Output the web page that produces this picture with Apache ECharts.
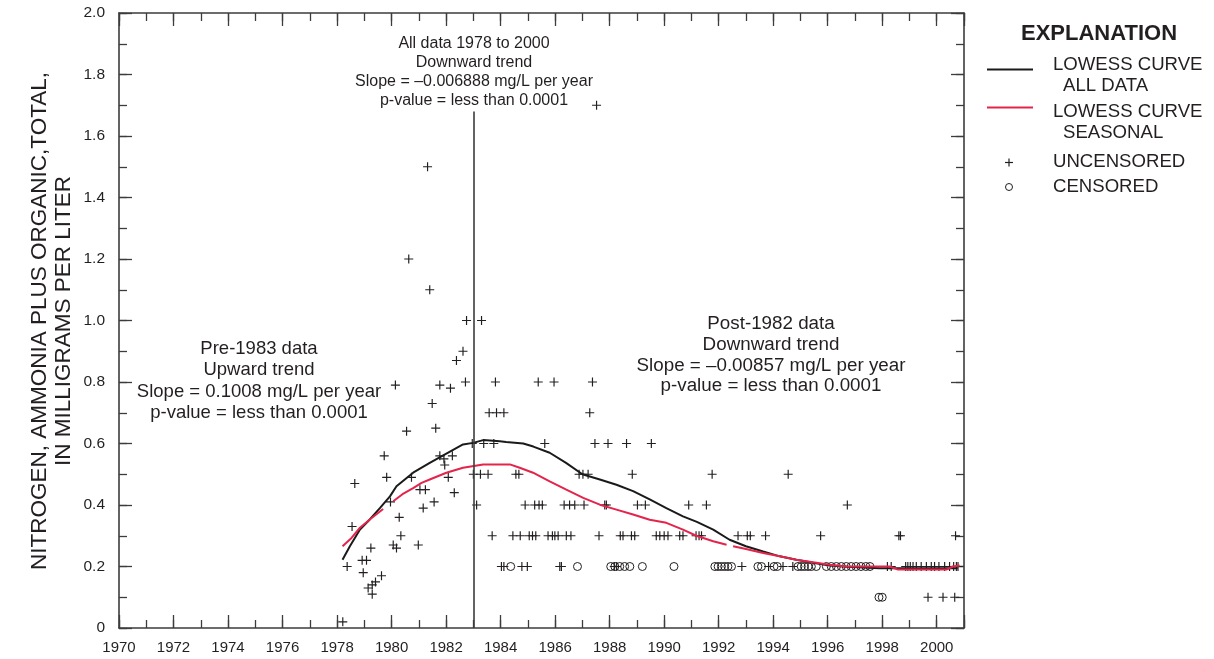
<!DOCTYPE html>
<html><head><meta charset="utf-8">
<script src="https://cdn.jsdelivr.net/npm/echarts@6/dist/echarts.min.js"></script>
<style>html,body{margin:0;padding:0;background:#fff}#c{width:1214px;height:659px}</style>
</head><body><div id="c"></div>
<script>
// ---------- data ----------
const xTickLabels = [1970,1972,1974,1976,1978,1980,1982,1984,1986,1988,1990,1992,1994,1996,1998,2000];
const yTickLabels = ['0','0.2','0.4','0.6','0.8','1.0','1.2','1.4','1.6','1.8','2.0'];

const uncensored = [
[1978.21,0.02],[1978.37,0.20],[1978.55,0.33],[1978.65,0.47],[1978.92,0.22],[1979.08,0.22],[1978.96,0.18],[1979.24,0.26],
[1979.14,0.13],[1979.29,0.14],[1979.41,0.15],[1979.63,0.17],[1979.29,0.11],[1979.73,0.56],[1979.82,0.49],[1979.96,0.41],
[1980.06,0.27],[1980.18,0.26],[1980.28,0.36],[1980.34,0.30],[1980.14,0.79],[1980.55,0.64],[1980.63,1.20],[1980.73,0.49],
[1980.98,0.27],[1981.04,0.45],[1981.16,0.39],[1981.24,0.45],[1981.32,1.50],[1981.40,1.10],[1981.49,0.73],[1981.56,0.41],
[1981.62,0.65],[1981.77,0.79],[1981.77,0.56],[1981.92,0.55],[1981.95,0.53],[1982.08,0.49],[1982.16,0.78],[1982.23,0.56],
[1982.30,0.44],[1982.38,0.87],[1982.62,0.90],[1982.71,0.80],[1982.75,1.00],[1982.96,0.60],
[1983.30,1.00],[1987.52,1.70],
[1983.81,0.8],[1985.38,0.8],[1985.96,0.8],[1987.37,0.8],
[1983.58,0.7],[1983.85,0.7],[1984.12,0.7],[1987.27,0.7],
[1983.38,0.6],[1983.75,0.6],[1985.62,0.6],[1987.46,0.6],[1987.94,0.6],[1988.62,0.6],[1989.53,0.6],
[1983.00,0.5],[1983.26,0.5],[1983.54,0.5],[1984.56,0.5],[1984.67,0.5],[1986.88,0.5],[1987.02,0.5],[1987.21,0.5],
[1988.83,0.5],[1991.76,0.5],[1994.55,0.5],
[1983.12,0.4],[1984.90,0.4],[1985.25,0.4],[1985.41,0.4],[1985.53,0.4],[1986.33,0.4],[1986.53,0.4],[1986.72,0.4],
[1987.06,0.4],[1987.82,0.4],[1987.88,0.4],[1989.02,0.4],[1989.31,0.4],[1990.90,0.4],[1991.55,0.4],[1996.72,0.4],
[1983.69,0.3],[1984.45,0.3],[1984.72,0.3],[1985.05,0.3],[1985.17,0.3],[1985.29,0.3],[1985.74,0.3],[1985.90,0.3],
[1985.99,0.3],[1986.11,0.3],[1986.41,0.3],[1986.58,0.3],[1987.61,0.3],[1988.39,0.3],[1988.49,0.3],[1988.80,0.3],
[1988.92,0.3],[1989.71,0.3],[1989.84,0.3],[1990.00,0.3],[1990.14,0.3],[1990.57,0.3],[1990.69,0.3],[1991.17,0.3],
[1991.28,0.3],[1991.37,0.3],[1992.71,0.3],[1993.05,0.3],[1993.16,0.3],[1993.72,0.3],[1995.74,0.3],[1998.61,0.3],
[1998.67,0.3],[2000.69,0.3],
[1984.03,0.2],[1984.12,0.2],[1984.78,0.2],[1984.98,0.2],[1986.17,0.2],[1986.23,0.2],[1988.17,0.2],[1988.26,0.2],
[1992.85,0.2],[1993.83,0.2],[1994.36,0.2],[1994.72,0.2],[1998.19,0.2],[1998.33,0.2],[1998.86,0.2],[1998.94,0.2],
[1999.03,0.2],[1999.13,0.2],[1999.25,0.2],[1999.43,0.2],[1999.62,0.2],[1999.80,0.2],[1999.92,0.2],[2000.08,0.2],
[2000.29,0.2],[2000.47,0.2],[2000.62,0.2],[2000.72,0.2],[2000.78,0.2],
[1999.68,0.1],[2000.23,0.1],[2000.66,0.1]
];

const censored = [
[1984.37,0.2],[1986.82,0.2],[1988.04,0.2],[1988.19,0.2],[1988.37,0.2],[1988.55,0.2],[1988.74,0.2],[1989.20,0.2],
[1990.36,0.2],[1991.86,0.2],[1991.98,0.2],[1992.10,0.2],[1992.22,0.2],[1992.34,0.2],[1992.47,0.2],[1993.44,0.2],
[1993.57,0.2],[1994.03,0.2],[1994.15,0.2],[1994.91,0.2],[1995.03,0.2],[1995.15,0.2],[1995.28,0.2],[1995.40,0.2],
[1995.58,0.2],[1995.95,0.2],[1996.13,0.2],[1996.32,0.2],[1996.50,0.2],[1996.68,0.2],[1996.86,0.2],[1997.04,0.2],
[1997.22,0.2],[1997.40,0.2],[1997.55,0.2],[1997.88,0.1],[1998.00,0.1]
];

const lowessAll = [
[1978.2,0.222],[1978.47,0.266],[1978.84,0.32],[1979.2,0.353],[1979.57,0.39],[1979.94,0.428],[1980.18,0.461],
[1980.79,0.505],[1981.4,0.537],[1982.01,0.567],[1982.62,0.597],[1982.99,0.602],[1983.36,0.611],[1983.97,0.607],
[1984.2,0.605],[1984.83,0.60],[1985.2,0.59],[1985.8,0.57],[1986.4,0.537],[1987.0,0.50],[1987.64,0.483],
[1988.25,0.466],[1988.86,0.445],[1989.47,0.418],[1990.08,0.39],[1990.69,0.363],[1991.2,0.345],[1991.8,0.32],
[1992.4,0.287],[1993.0,0.266],[1993.63,0.249],[1994.24,0.233],[1994.85,0.222],[1995.46,0.212],[1996.07,0.203],
[1996.7,0.199],[1997.9,0.194],[2000.77,0.194]
];

const lowessSeasonal = [
[1978.2,0.266],[1978.53,0.293],[1978.84,0.326],[1979.2,0.353],[1979.69,0.387],[1979.88,'-'],
[1980.06,0.412],[1980.4,0.435],[1980.79,0.455],[1981.1,0.472],[1981.4,0.483],[1982.01,0.505],[1982.62,0.521],
[1983.36,0.532],[1984.34,0.532],[1984.7,0.521],[1985.19,0.505],[1985.8,0.477],[1986.41,0.45],[1987.03,0.423],
[1987.64,0.401],[1988.25,0.385],[1988.86,0.369],[1989.47,0.352],[1990.08,0.342],[1990.69,0.32],[1991.18,0.300],
[1991.8,0.282],[1992.29,0.271],[1992.41,'-'],[1992.53,0.266],[1993.0,0.257],[1993.63,0.244],[1994.24,0.233],
[1994.85,0.222],[1995.46,0.214],[1996.07,0.206],[1996.7,0.20],[1998.27,0.20],[1998.58,0.19],[2000.35,0.19],
[2000.6,0.20],[2000.84,0.203]
];

const trendBreakYear = 1983;
const trendBreakTop = 1.68;

// ---------- styling ----------
const FONT = '"Liberation Sans", Arial, Helvetica, sans-serif';
const INK = '#231f20';
const AX = '#3c3c3c';
const RED = '#e3244b';
const plusPath = 'path://M-1,-0.13H1V0.13H-1Z M-0.13,-1H0.13V1H-0.13Z';

function xAxisDef(pos, interval, len, withLine, withLabel) {
  return {
    type: 'value', position: pos, min: 1970, max: 2001, interval: interval,
    axisLine: { show: withLine, onZero: false, lineStyle: { color: AX, width: 1.6 } },
    axisTick: { show: true, inside: true, length: len, lineStyle: { color: AX, width: 1.3 } },
    axisLabel: withLabel ? {
      show: true, margin: 12, fontSize: 15, color: INK, fontFamily: FONT,
      formatter: v => { const r = Math.round(v); return xTickLabels.indexOf(r) >= 0 ? String(r) : ''; }
    } : { show: false },
    splitLine: { show: false }
  };
}
function yAxisDef(pos, interval, len, withLine, withLabel) {
  return {
    type: 'value', position: pos, min: 0, max: 2, interval: interval,
    axisLine: { show: withLine, onZero: false, lineStyle: { color: AX, width: 1.6 } },
    axisTick: { show: true, inside: true, length: len, lineStyle: { color: AX, width: 1.3 } },
    axisLabel: withLabel ? {
      show: true, margin: 14, fontSize: 15.5, color: INK, fontFamily: FONT,
      formatter: v => { const r = Math.round(v * 10); return r % 2 === 0 ? yTickLabels[r / 2] : ''; }
    } : { show: false },
    splitLine: { show: false }
  };
}

const T = (text, x, y, size, opts) => Object.assign({
  type: 'text', x: x, y: y, silent: true,
  style: Object.assign({ text: text, fill: INK, font: size + 'px ' + FONT, textAlign: 'center', textVerticalAlign: 'middle' }, (opts && opts.style) || {})
}, (opts && opts.el) || {});

const graphics = [
  // y-axis title
  { type: 'text', x: 52, y: 321, rotation: Math.PI / 2, silent: true,
    style: { text: 'NITROGEN, AMMONIA PLUS ORGANIC,TOTAL,\nIN MILLIGRAMS PER LITER', fill: INK,
      font: '22.5px ' + FONT, textAlign: 'center', textVerticalAlign: 'middle', lineHeight: 24 } },
  // annotations
  T('All data 1978 to 2000', 474, 44, 16),
  T('Downward trend', 474, 63, 16),
  T('Slope = \u20130.006888 mg/L per year', 474, 82, 16),
  T('p-value = less than 0.0001', 474, 101, 16),
  T('Pre-1983 data', 259, 349, 18.5),
  T('Upward trend', 259, 370, 18.5),
  T('Slope = 0.1008 mg/L per year', 259, 392, 18.5),
  T('p-value = less than 0.0001', 259, 413, 18.5),
  T('Post-1982 data', 771, 324, 18.8),
  T('Downward trend', 771, 345, 18.8),
  T('Slope = \u20130.00857 mg/L per year', 771, 366, 18.8),
  T('p-value = less than 0.0001', 771, 386, 18.8),
  // legend
  T('EXPLANATION', 1099, 34, 22, { style: { font: 'bold 22px ' + FONT } }),
  { type: 'line', silent: true, shape: { x1: 987, y1: 69.5, x2: 1033, y2: 69.5 }, style: { stroke: '#1a1a1a', lineWidth: 2 } },
  T('LOWESS CURVE', 1053, 65, 18.6, { style: { textAlign: 'left' } }),
  T('ALL DATA', 1063, 86, 18.6, { style: { textAlign: 'left' } }),
  { type: 'line', silent: true, shape: { x1: 987, y1: 107.5, x2: 1033, y2: 107.5 }, style: { stroke: RED, lineWidth: 2 } },
  T('LOWESS CURVE', 1053, 112, 18.6, { style: { textAlign: 'left' } }),
  T('SEASONAL', 1063, 133, 18.6, { style: { textAlign: 'left' } }),
  { type: 'line', silent: true, shape: { x1: 1005, y1: 162.5, x2: 1013, y2: 162.5 }, style: { stroke: INK, lineWidth: 1.2 } },
  { type: 'line', silent: true, shape: { x1: 1009, y1: 158.5, x2: 1009, y2: 166.5 }, style: { stroke: INK, lineWidth: 1.2 } },
  T('UNCENSORED', 1053, 162, 18.6, { style: { textAlign: 'left' } }),
  { type: 'circle', silent: true, shape: { cx: 1009, cy: 187, r: 3.5 }, style: { fill: 'none', stroke: INK, lineWidth: 1 } },
  T('CENSORED', 1053, 187, 18.6, { style: { textAlign: 'left' } })
];

const chart = echarts.init(document.getElementById('c'), null, { renderer: 'canvas' });
chart.setOption({
  animation: false,
  backgroundColor: '#ffffff',
  textStyle: { fontFamily: FONT },
  grid: { left: 119, right: 250, top: 13, bottom: 31, containLabel: false },
  xAxis: [
    xAxisDef('bottom', 1, 8, true, true),
    xAxisDef('bottom', 2, 13, false, false),
    xAxisDef('top', 1, 8, true, false),
    xAxisDef('top', 2, 13, false, false)
  ],
  yAxis: [
    yAxisDef('left', 0.1, 8, true, false),
    yAxisDef('left', 0.2, 13, false, true),
    yAxisDef('right', 0.1, 8, true, false),
    yAxisDef('right', 0.2, 13, false, false)
  ],
  series: [
    {
      name: 'UNCENSORED', type: 'scatter', xAxisIndex: 0, yAxisIndex: 0, z: 2,
      symbol: plusPath, symbolSize: 9,
      itemStyle: { color: INK, opacity: 1 },
      data: uncensored,
      markLine: {
        silent: true, symbol: ['none', 'none'], label: { show: false },
        lineStyle: { color: AX, width: 1.6, type: 'solid' },
        data: [[{ coord: [trendBreakYear, 0] }, { coord: [trendBreakYear, trendBreakTop] }]]
      }
    },
    {
      name: 'CENSORED', type: 'scatter', xAxisIndex: 0, yAxisIndex: 0, z: 2,
      symbol: 'circle', symbolSize: 8,
      itemStyle: { color: 'rgba(255,255,255,0)', borderColor: INK, borderWidth: 1, opacity: 1 },
      data: censored
    },
    {
      name: 'LOWESS CURVE ALL DATA', type: 'line', xAxisIndex: 0, yAxisIndex: 0, z: 3,
      showSymbol: false, symbol: 'none', connectNulls: false,
      lineStyle: { color: '#1a1a1a', width: 2 },
      data: lowessAll
    },
    {
      name: 'LOWESS CURVE SEASONAL', type: 'line', xAxisIndex: 0, yAxisIndex: 0, z: 4,
      showSymbol: false, symbol: 'none', connectNulls: false,
      lineStyle: { color: RED, width: 2 },
      data: lowessSeasonal
    }
  ],
  graphic: graphics
});
</script>
</body></html>
